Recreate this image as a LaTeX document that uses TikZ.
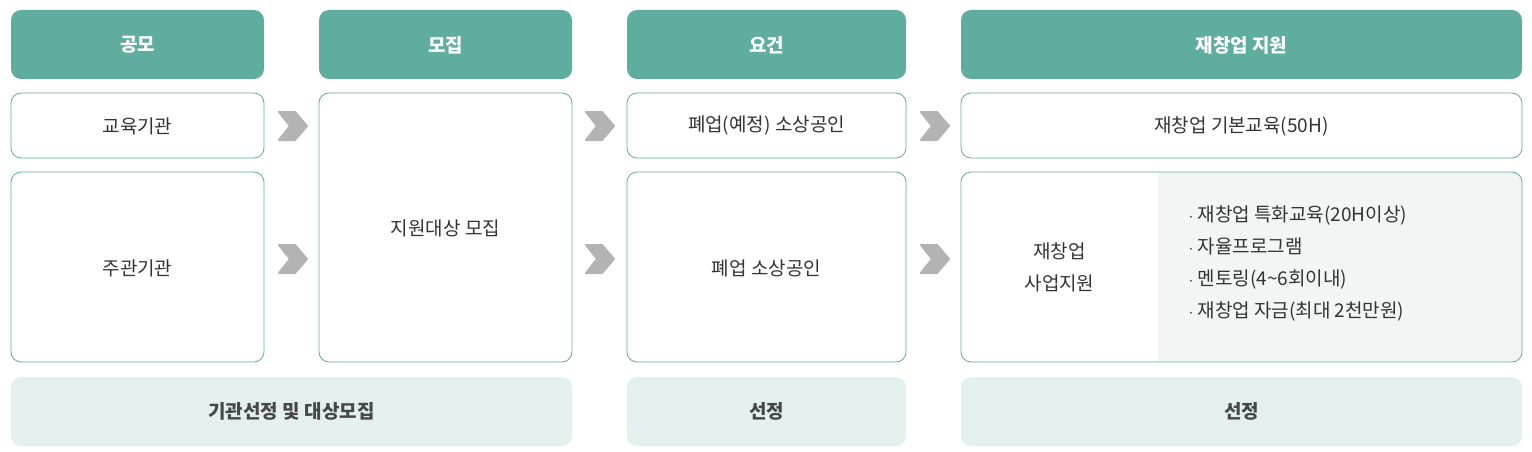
\documentclass[tikz,border=0pt]{standalone}
\usepackage{fontspec}
\setmainfont{Noto Sans CJK KR}
\definecolor{teal}{HTML}{5FAD9E}
\definecolor{lbg}{HTML}{F1F6F5}
\definecolor{bbg}{HTML}{E4F0EF}
\definecolor{txt}{HTML}{333333}
\definecolor{chev}{HTML}{B3B3B3}
\begin{document}
\begin{tikzpicture}[x=1pt,y=-1pt,
  bx/.style={draw=teal,fill=white,rounded corners=10pt,line width=0.8pt},
  lbl/.style={text=txt,font=\fontsize{19}{22}\selectfont},
  blbl/.style={text=black!72,font=\fontsize{19}{22}\selectfont\bfseries},
  chv/.style={fill=chev,draw=chev,line width=2pt,line join=round}]
\useasboundingbox (0,0) rectangle (1532,452);
% headers
\foreach \a/\b/\t/\n in {11/264/공모/h1,319/572/모집/h2,627/906/요건/h3,961/1522/재창업 지원/h4}{
  \fill[teal,rounded corners=10pt] (\a,10) rectangle (\b,79);
  \node[text=white,font=\fontsize{19}{22}\selectfont\bfseries] (\n) at ({(\a+\b)/2},45) {\t};
}
% body boxes
\draw[bx] (11,93) rectangle (264,158);
\node[lbl] (a1) at (137.5,126) {교육기관};
\draw[bx] (11,172) rectangle (264,362);
\node[lbl] (a2) at (137.5,268) {주관기관};
\draw[bx] (319,93) rectangle (572,362);
\node[lbl] (b1) at (445.5,228) {지원대상 모집};
\draw[bx] (627,93) rectangle (906,158);
\node[lbl] (c1) at (766.5,126) {폐업(예정) 소상공인};
\draw[bx] (627,172) rectangle (906,362);
\node[lbl] (c2) at (766.5,268) {폐업 소상공인};
\draw[bx] (961,93) rectangle (1522,158);
\node[lbl] (d1) at (1241.5,126) {재창업 기본교육(50H)};
\fill[lbg,rounded corners=10pt] (1158,172) rectangle (1522,362);
\fill[lbg] (1158,172) rectangle (1200,362);
\draw[bx,fill=none] (961,172) rectangle (1522,362);
\node[lbl,font=\fontsize{19}{32}\selectfont,align=center] (d2) at (1059.5,267) {재창업\\사업지원};
\node[lbl,font=\fontsize{19}{32}\selectfont,align=left,anchor=west] (d3) at (1185,263)
 {$\cdot$ 재창업 특화교육(20H이상)\\$\cdot$ 자율프로그램\\$\cdot$ 멘토링(4\textasciitilde6회이내)\\$\cdot$ 재창업 자금(최대 2천만원)};
% bottom
\fill[bbg,rounded corners=10pt] (11,377) rectangle (572,446);
\node[blbl] (e1) at (291.5,411) {기관선정 및 대상모집};
\fill[bbg,rounded corners=10pt] (627,377) rectangle (906,446);
\node[blbl] (e2) at (766.5,411) {선정};
\fill[bbg,rounded corners=10pt] (961,377) rectangle (1522,446);
\node[blbl] (e3) at (1241.5,411) {선정};
% chevrons
\foreach \x in {279,586,921}{
 \foreach \y in {126,259}{
  \filldraw[chv] (\x,\y-14) -- (\x+16,\y-14) -- (\x+28,\y) -- (\x+16,\y+14) -- (\x,\y+14) -- (\x+11,\y) -- cycle;
 }}
\end{tikzpicture}
\end{document}
